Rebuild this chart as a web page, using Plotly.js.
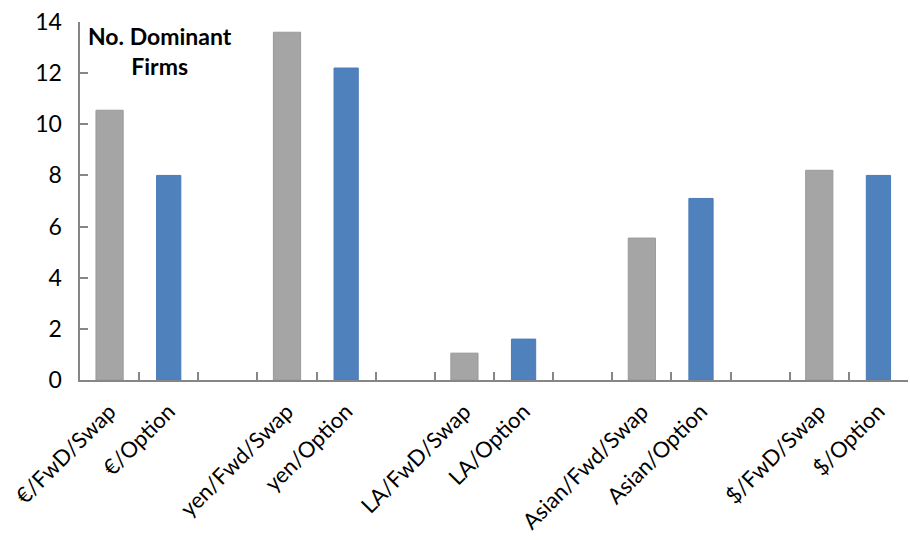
<!DOCTYPE html>
<html>
<head>
<meta charset="utf-8">
<script src="https://cdn.plot.ly/plotly-3.0.1.min.js"></script>
<style>html,body{margin:0;padding:0;background:#fff;}#chart{width:910px;height:540px;}</style>
</head>
<body>
<div id="chart"></div>
<script>
// Category slots, with blank spacer slots between the currency groups
const categories = [
  "€/FwD/Swap", "€/Option", " ",
  "yen/Fwd/Swap", "yen/Option", "  ",
  "LA/FwD/Swap", "LA/Option", "   ",
  "Asian/Fwd/Swap", "Asian/Option", "    ",
  "$/FwD/Swap", "$/Option"
];
// Forward / swap counts (grey bars), null where the slot holds another bar
const fwdSwapValues = [10.55, null, null, 13.6, null, null, 1.05, null, null, 5.55, null, null, 8.2, null];
// Option counts (blue bars)
const optionValues = [null, 8.0, null, null, 12.2, null, null, 1.6, null, null, 7.1, null, null, 8.0];

const axisColor = "#868686";
const fontFamily = "Lato, 'Open Sans', sans-serif";
const xTickFont = {family: fontFamily, size: 22, color: "#000"};
const yTickFont = {family: fontFamily, size: 23, color: "#000"};

const data = [
  {
    type: "bar", x: categories, y: fwdSwapValues, width: 0.46,
    marker: {color: "#A5A5A5", line: {color: "#9A9A9A", width: 1}},
    hoverinfo: "x+y", showlegend: false
  },
  {
    type: "bar", x: categories, y: optionValues, width: 0.41,
    marker: {color: "#4F81BD", line: {color: "#4A7CB8", width: 1}},
    hoverinfo: "x+y", showlegend: false
  }
];

const layout = {
  width: 910, height: 540,
  margin: {l: 80, r: 2, t: 22, b: 160},
  paper_bgcolor: "#fff", plot_bgcolor: "#fff",
  barmode: "overlay",
  xaxis: {
    type: "category", categoryorder: "array", categoryarray: categories,
    tickangle: -45, tickfont: xTickFont, ticklabelstandoff: 8,
    showline: true, linecolor: axisColor, linewidth: 2,
    ticks: "inside", tickson: "boundaries", ticklen: 8, tickwidth: 2, tickcolor: axisColor,
    showgrid: false, zeroline: false
  },
  yaxis: {
    range: [0, 14], dtick: 2, tickfont: yTickFont, ticksuffix: "\u2002",
    showline: true, linecolor: axisColor, linewidth: 2,
    ticks: "inside", ticklen: 8, tickwidth: 2, tickcolor: axisColor,
    showgrid: false, zeroline: false
  },
  annotations: [{
    text: "<b>No. Dominant<br>Firms</b>",
    xref: "paper", yref: "paper", x: 0.097, y: 1.005,
    xanchor: "center", yanchor: "top", showarrow: false, align: "center",
    font: {family: fontFamily, size: 23, color: "#000"}
  }]
};

Plotly.newPlot("chart", data, layout, {displayModeBar: false, staticPlot: true});
</script>
</body>
</html>
